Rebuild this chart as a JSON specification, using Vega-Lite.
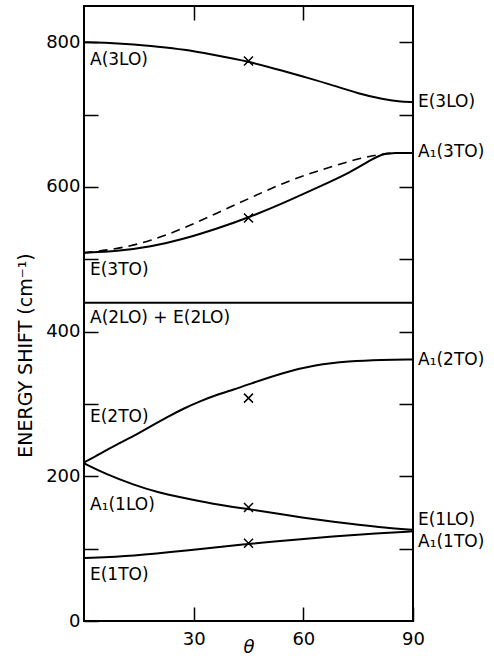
{
  "$schema": "https://vega.github.io/schema/vega-lite/v6.json",
  "width": 329,
  "height": 615,
  "autosize": {"type": "none"},
  "padding": {"left": 84, "top": 6, "right": 81, "bottom": 35},
  "background": "white",
  "config": {
    "view": {"stroke": "black", "strokeWidth": 2},
    "font": "DejaVu Sans",
    "axis": {
      "domain": false,
      "grid": false,
      "tickColor": "black",
      "tickWidth": 1.5,
      "tickSize": -14,
      "labelColor": "black",
      "labelFont": "DejaVu Sans",
      "labelFontSize": 18,
      "titleColor": "black",
      "titleFont": "DejaVu Sans",
      "titleFontWeight": "normal"
    }
  },
  "datasets": {
    "curves": [
      {"series": "3LO", "theta": 0, "E": 800},
      {"series": "3LO", "theta": 7, "E": 799},
      {"series": "3LO", "theta": 13.7, "E": 797},
      {"series": "3LO", "theta": 20, "E": 794},
      {"series": "3LO", "theta": 27.4, "E": 790},
      {"series": "3LO", "theta": 35, "E": 783},
      {"series": "3LO", "theta": 44.6, "E": 774},
      {"series": "3LO", "theta": 54.7, "E": 760},
      {"series": "3LO", "theta": 61, "E": 751},
      {"series": "3LO", "theta": 68.4, "E": 740},
      {"series": "3LO", "theta": 75, "E": 729},
      {"series": "3LO", "theta": 82, "E": 721},
      {"series": "3LO", "theta": 86, "E": 718},
      {"series": "3LO", "theta": 90, "E": 717},
      {"series": "3TO", "theta": 0, "E": 509},
      {"series": "3TO", "theta": 9.1, "E": 511},
      {"series": "3TO", "theta": 18.2, "E": 517},
      {"series": "3TO", "theta": 27.4, "E": 528},
      {"series": "3TO", "theta": 36.5, "E": 542.5},
      {"series": "3TO", "theta": 44.7, "E": 557},
      {"series": "3TO", "theta": 54.7, "E": 578},
      {"series": "3TO", "theta": 63.8, "E": 599},
      {"series": "3TO", "theta": 72.9, "E": 620},
      {"series": "3TO", "theta": 79.3, "E": 640},
      {"series": "3TO", "theta": 82, "E": 646},
      {"series": "3TO", "theta": 85, "E": 647},
      {"series": "3TO", "theta": 90, "E": 647},
      {"series": "3TO alt", "theta": 0, "E": 509},
      {"series": "3TO alt", "theta": 9.1, "E": 514},
      {"series": "3TO alt", "theta": 18.2, "E": 525},
      {"series": "3TO alt", "theta": 27.4, "E": 543},
      {"series": "3TO alt", "theta": 36.5, "E": 564},
      {"series": "3TO alt", "theta": 45.6, "E": 585},
      {"series": "3TO alt", "theta": 54.7, "E": 606},
      {"series": "3TO alt", "theta": 63.8, "E": 622},
      {"series": "3TO alt", "theta": 72.9, "E": 636},
      {"series": "3TO alt", "theta": 80.2, "E": 645},
      {"series": "3TO alt", "theta": 85, "E": 647},
      {"series": "3TO alt", "theta": 90, "E": 647},
      {"series": "2LO", "theta": 0, "E": 440},
      {"series": "2LO", "theta": 90, "E": 440},
      {"series": "2TO", "theta": 0, "E": 219},
      {"series": "2TO", "theta": 4.6, "E": 232},
      {"series": "2TO", "theta": 9.1, "E": 244},
      {"series": "2TO", "theta": 13.7, "E": 256},
      {"series": "2TO", "theta": 18.2, "E": 269},
      {"series": "2TO", "theta": 22.8, "E": 282},
      {"series": "2TO", "theta": 27.4, "E": 294},
      {"series": "2TO", "theta": 31.9, "E": 304},
      {"series": "2TO", "theta": 36.5, "E": 313},
      {"series": "2TO", "theta": 41, "E": 320},
      {"series": "2TO", "theta": 45, "E": 327},
      {"series": "2TO", "theta": 54.2, "E": 343},
      {"series": "2TO", "theta": 63.3, "E": 354},
      {"series": "2TO", "theta": 72.4, "E": 359},
      {"series": "2TO", "theta": 81.5, "E": 361},
      {"series": "2TO", "theta": 90, "E": 361.5},
      {"series": "1LO", "theta": 0, "E": 218},
      {"series": "1LO", "theta": 6, "E": 203},
      {"series": "1LO", "theta": 13.7, "E": 188},
      {"series": "1LO", "theta": 20, "E": 178},
      {"series": "1LO", "theta": 27.4, "E": 170},
      {"series": "1LO", "theta": 35, "E": 162},
      {"series": "1LO", "theta": 44.6, "E": 155},
      {"series": "1LO", "theta": 54.7, "E": 147},
      {"series": "1LO", "theta": 61, "E": 142},
      {"series": "1LO", "theta": 68.4, "E": 137},
      {"series": "1LO", "theta": 75, "E": 133},
      {"series": "1LO", "theta": 82, "E": 129},
      {"series": "1LO", "theta": 90, "E": 126},
      {"series": "1TO", "theta": 0, "E": 87},
      {"series": "1TO", "theta": 13.7, "E": 90},
      {"series": "1TO", "theta": 27.4, "E": 97},
      {"series": "1TO", "theta": 44.6, "E": 106.5},
      {"series": "1TO", "theta": 54.7, "E": 111},
      {"series": "1TO", "theta": 68.4, "E": 117},
      {"series": "1TO", "theta": 80, "E": 121},
      {"series": "1TO", "theta": 90, "E": 124}
    ],
    "measured": [
      {"theta": 45, "E": 774},
      {"theta": 45, "E": 557},
      {"theta": 45, "E": 308},
      {"theta": 45, "E": 157},
      {"theta": 45, "E": 107.5}
    ],
    "labels": [
      {"label": "A(3LO)", "side": "left", "theta": 0, "E": 775},
      {"label": "E(3TO)", "side": "left", "theta": 0, "E": 485},
      {"label": "A(2LO) + E(2LO)", "side": "left", "theta": 0, "E": 419},
      {"label": "E(2TO)", "side": "left", "theta": 0, "E": 282},
      {"label": "A₁(1LO)", "side": "left", "theta": 0, "E": 160},
      {"label": "E(1TO)", "side": "left", "theta": 0, "E": 64},
      {"label": "E(3LO)", "side": "right", "theta": 90, "E": 717},
      {"label": "A₁(3TO)", "side": "right", "theta": 90, "E": 648},
      {"label": "A₁(2TO)", "side": "right", "theta": 90, "E": 361},
      {"label": "E(1LO)", "side": "right", "theta": 90, "E": 140},
      {"label": "A₁(1TO)", "side": "right", "theta": 90, "E": 109}
    ]
  },
  "layer": [
    {
      "data": {"name": "curves"},
      "transform": [{"filter": "datum.series !== '3TO alt'"}],
      "mark": {"type": "line", "interpolate": "basis", "color": "black", "strokeWidth": 2},
      "encoding": {
        "x": {
          "field": "theta", "type": "quantitative",
          "scale": {"domain": [0, 90], "nice": false},
          "axis": {
            "orient": "bottom", "values": [30, 60, 90], "labelPadding": 23,
            "labelFlush": false, "title": "θ", "titleFontStyle": "italic",
            "titleFontSize": 18, "titleY": 26, "titleBaseline": "middle"
          }
        },
        "y": {
          "field": "E", "type": "quantitative",
          "scale": {"domain": [0, 850], "nice": false},
          "axis": {
            "orient": "left", "values": [0, 100, 200, 300, 400, 500, 600, 700, 800],
            "labelExpr": "datum.value % 200 === 0 ? datum.label : ''",
            "labelPadding": 18, "labelFlush": false,
            "title": "ENERGY SHIFT (cm⁻¹)", "titleFontSize": 19,
            "titleAngle": -90, "titleX": -59, "titleY": 349,
            "titleBaseline": "middle", "titleAlign": "center"
          }
        },
        "detail": {"field": "series"}
      }
    },
    {
      "data": {"name": "curves"},
      "transform": [{"filter": "datum.series === '3TO alt'"}],
      "mark": {"type": "line", "interpolate": "basis", "color": "black", "strokeWidth": 1.6, "strokeDash": [9, 6]},
      "encoding": {
        "x": {"field": "theta", "type": "quantitative", "axis": null},
        "y": {"field": "E", "type": "quantitative", "axis": null}
      }
    },
    {
      "data": {"name": "measured"},
      "mark": {"type": "point", "shape": "M-1,-1L1,1M-1,1L1,-1", "size": 81, "filled": false, "color": "black", "strokeWidth": 1.5, "opacity": 1},
      "encoding": {
        "x": {
          "field": "theta", "type": "quantitative",
          "axis": {"orient": "top", "values": [30, 60], "labels": false, "title": null}
        },
        "y": {
          "field": "E", "type": "quantitative",
          "axis": {"orient": "right", "values": [100, 200, 300, 400, 500, 600, 700, 800], "labels": false, "title": null}
        }
      }
    },
    {
      "data": {"name": "labels"},
      "transform": [{"filter": "datum.side === 'left'"}],
      "mark": {"type": "text", "align": "left", "baseline": "middle", "dx": 6, "font": "DejaVu Sans", "fontSize": 17, "color": "black"},
      "encoding": {
        "x": {"field": "theta", "type": "quantitative", "axis": null},
        "y": {"field": "E", "type": "quantitative", "axis": null},
        "text": {"field": "label"}
      }
    },
    {
      "data": {"name": "labels"},
      "transform": [{"filter": "datum.side === 'right'"}],
      "mark": {"type": "text", "align": "left", "baseline": "middle", "dx": 5, "font": "DejaVu Sans", "fontSize": 17, "color": "black"},
      "encoding": {
        "x": {"field": "theta", "type": "quantitative", "axis": null},
        "y": {"field": "E", "type": "quantitative", "axis": null},
        "text": {"field": "label"}
      }
    }
  ],
  "resolve": {"axis": {"x": "independent", "y": "independent"}}
}
